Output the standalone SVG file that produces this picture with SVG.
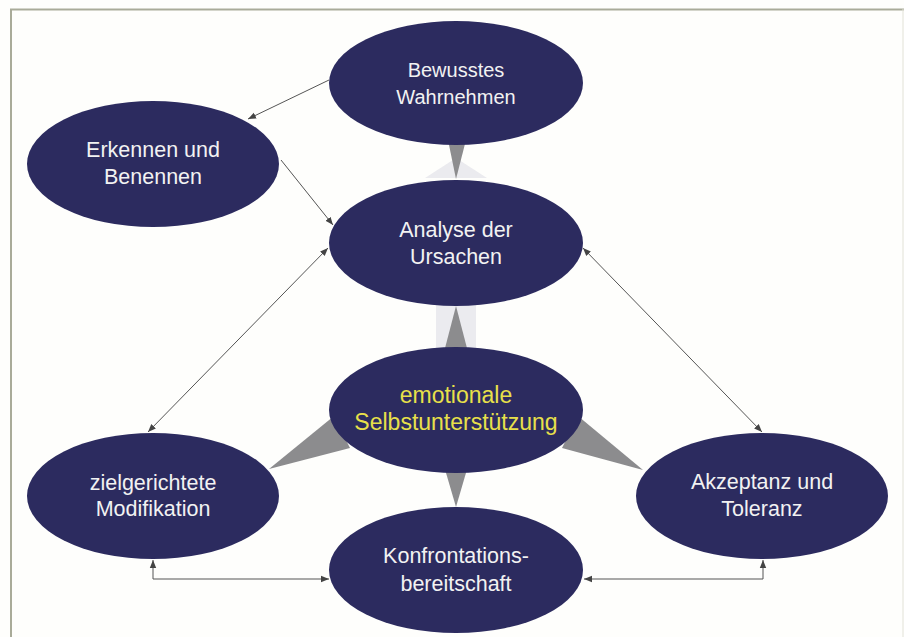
<svg xmlns="http://www.w3.org/2000/svg" width="904" height="637" viewBox="0 0 904 637">
<defs>
<style>
.node ellipse{fill:#2c2b5f}
.node text{font-family:"Liberation Sans",Arial,sans-serif;font-size:21.5px;fill:#f2f2f2;text-anchor:middle}
.node text.narrow{font-size:20px}
.node text.hl{fill:#e8e04a;font-size:23px}
.wedge{fill:#8c8c8e}
.ghost{fill:#ebebef}
.conn{fill:none;stroke:#555;stroke-width:1}
</style>
<marker id="ah" viewBox="0 0 10 10" refX="10" refY="5" markerWidth="8" markerHeight="8" markerUnits="userSpaceOnUse" orient="auto-start-reverse">
<path d="M0,1 L10,5 L0,9 z" fill="#444"/>
</marker>
</defs>
<rect x="0" y="0" width="904" height="637" fill="#fefefc"/>
<path d="M11,637 V9.5 H904" fill="none" stroke="#a9ab99" stroke-width="2"/>
<line x1="903" y1="9" x2="903" y2="637" stroke="#e2e2d8" stroke-width="1"/>

<g id="wedges">
<polygon class="ghost" points="436,300 476,300 476,350 436,350"/>
<polygon class="ghost" points="425,178 456,158 487,178"/>
<polygon class="wedge" points="448,140 466,140 456,179"/>
<polygon class="wedge" points="444,352 468,352 456,306"/>
<polygon class="wedge" points="444,466 468,466 456,507"/>
<polygon class="wedge" points="269,469 334,416 350,448"/>
<polygon class="wedge" points="643,470 578,416 562,448"/>
</g>

<g id="connectors">
<line class="conn" x1="329" y1="80" x2="248" y2="119" marker-end="url(#ah)"/>
<line class="conn" x1="281" y1="160" x2="333" y2="225" marker-end="url(#ah)"/>
<line class="conn" x1="328" y1="248" x2="148" y2="432" marker-start="url(#ah)" marker-end="url(#ah)"/>
<line class="conn" x1="583" y1="248" x2="762" y2="432" marker-start="url(#ah)" marker-end="url(#ah)"/>
<polyline class="conn" points="153,560 153,579 329,579" marker-start="url(#ah)" marker-end="url(#ah)"/>
<polyline class="conn" points="763,560 763,579 584,579" marker-start="url(#ah)" marker-end="url(#ah)"/>
</g>

<g id="bewusstes" class="node">
<ellipse cx="456" cy="83" rx="127" ry="62"/>
<text class="narrow" x="456" y="77">Bewusstes</text>
<text class="narrow" x="456" y="104">Wahrnehmen</text>
</g>
<g id="erkennen" class="node">
<ellipse cx="153" cy="164" rx="126" ry="63"/>
<text x="153" y="157">Erkennen und</text>
<text x="153" y="184">Benennen</text>
</g>
<g id="analyse" class="node">
<ellipse cx="456" cy="243" rx="127" ry="63"/>
<text x="456" y="237">Analyse der</text>
<text x="456" y="264">Ursachen</text>
</g>
<g id="emotionale" class="node">
<ellipse cx="456" cy="410" rx="127" ry="63"/>
<text class="hl" x="456" y="403">emotionale</text>
<text class="hl" x="456" y="430">Selbstunterstützung</text>
</g>
<g id="zielgerichtete" class="node">
<ellipse cx="153" cy="496" rx="126" ry="63"/>
<text x="153" y="490">zielgerichtete</text>
<text x="153" y="516">Modifikation</text>
</g>
<g id="akzeptanz" class="node">
<ellipse cx="762" cy="496" rx="126" ry="63"/>
<text x="762" y="489">Akzeptanz und</text>
<text x="762" y="516">Toleranz</text>
</g>
<g id="konfrontation" class="node">
<ellipse cx="456" cy="570" rx="127" ry="63"/>
<text x="456" y="563">Konfrontations-</text>
<text x="456" y="591">bereitschaft</text>
</g>
</svg>
